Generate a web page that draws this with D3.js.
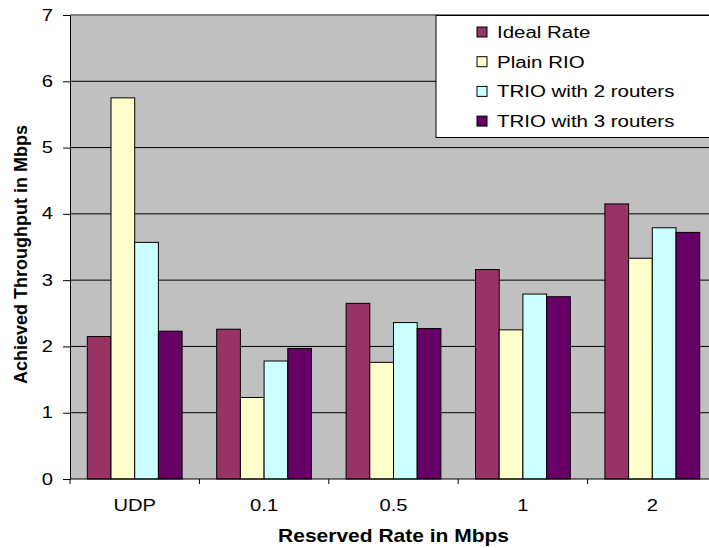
<!DOCTYPE html>
<html>
<head>
<meta charset="utf-8">
<script src="https://cdn.jsdelivr.net/npm/d3@7"></script>
<style>
  html, body { margin: 0; padding: 0; background: #fff; }
  svg { display: block; font-family: "Liberation Sans", Arial, sans-serif; }
</style>
</head>
<body>
<svg id="chart" width="709" height="548"></svg>
<script>
// Reserved-rate categories and measured throughput per scheme (Mbps)
const categories = ["UDP", "0.1", "0.5", "1", "2"];
const seriesNames = ["Ideal Rate", "Plain RIO", "TRIO with 2 routers", "TRIO with 3 routers"];
const idealRate = [2.15, 2.26, 2.65, 3.16, 4.15];
const plainRIO  = [5.75, 1.23, 1.76, 2.25, 3.33];
const trio2     = [3.57, 1.78, 2.36, 2.79, 3.79];
const trio3     = [2.23, 1.97, 2.27, 2.75, 3.72];
const yTicks = [0, 1, 2, 3, 4, 5, 6, 7];
const colors = ["#993366", "#ffffcc", "#ccffff", "#660066"];

const seriesValues = [idealRate, plainRIO, trio2, trio3];

const svg = d3.select("#chart");
const plotLeft = 70, plotRight = 717, plotTop = 15, plotBottom = 479;
const sx = 1.26; // horizontal widening of text glyphs

const x0 = d3.scaleBand().domain(categories).range([plotLeft, plotRight]).paddingInner(0).paddingOuter(0);
const x1 = d3.scaleBand().domain(seriesNames).range([0, x0.bandwidth()]).paddingInner(0).paddingOuter(0.73);
const y = d3.scaleLinear().domain([0, 7]).range([plotBottom, plotTop]);
const color = d3.scaleOrdinal().domain(seriesNames).range(colors);

// plot background
svg.append("rect")
  .attr("x", plotLeft).attr("y", plotTop)
  .attr("width", plotRight - plotLeft).attr("height", plotBottom - plotTop)
  .attr("fill", "#c0c0c0");

// horizontal gridlines
svg.append("g").selectAll("line")
  .data(yTicks.filter(t => t > 0 && t < 7))
  .join("line")
  .attr("x1", plotLeft).attr("x2", plotRight)
  .attr("y1", d => y(d)).attr("y2", d => y(d))
  .attr("stroke", "#000").attr("stroke-width", 1);

// top border of the plot area
svg.append("line")
  .attr("x1", plotLeft).attr("x2", plotRight)
  .attr("y1", y(7)).attr("y2", y(7))
  .attr("stroke", "#808080").attr("stroke-width", 2);

// bars
const rows = categories.map((c, i) => ({
  cat: c,
  vals: seriesNames.map((s, j) => ({ s, v: seriesValues[j][i] }))
}));
svg.append("g").selectAll("g")
  .data(rows)
  .join("g")
  .attr("transform", d => `translate(${x0(d.cat)},0)`)
  .selectAll("rect")
  .data(d => d.vals)
  .join("rect")
  .attr("x", d => x1(d.s))
  .attr("width", x1.bandwidth())
  .attr("y", d => y(d.v))
  .attr("height", d => y(0) - y(d.v))
  .attr("fill", d => color(d.s))
  .attr("stroke", "#000").attr("stroke-width", 1);

// y axis
const yAxis = svg.append("g")
  .attr("transform", `translate(${plotLeft},0)`)
  .call(d3.axisLeft(y).tickValues(yTicks).tickFormat(d3.format("d")).tickSize(7).tickPadding(0));
yAxis.select(".domain").attr("stroke", "#000");
yAxis.selectAll(".tick line").attr("stroke", "#000");
yAxis.selectAll(".tick text")
  .attr("x", 0)
  .attr("transform", `translate(-17,0) scale(${sx},1)`)
  .attr("font-size", 16).attr("fill", "#000")
  .attr("font-family", "'Liberation Sans', Arial, sans-serif");

// x axis with ticks at category boundaries
const xAxisG = svg.append("g").attr("transform", `translate(0,${plotBottom})`);
xAxisG.append("line").attr("x1", plotLeft).attr("x2", plotRight).attr("stroke", "#000");
xAxisG.selectAll("line.tk")
  .data(categories)
  .join("line").attr("class", "tk")
  .attr("x1", d => x0(d)).attr("x2", d => x0(d))
  .attr("y1", 0).attr("y2", 5)
  .attr("stroke", "#000");
xAxisG.selectAll("text")
  .data(categories)
  .join("text")
  .attr("text-anchor", "middle")
  .attr("transform", d => `translate(${x0(d) + x0.bandwidth() / 2},32) scale(${sx},1)`)
  .attr("font-size", 16).attr("fill", "#000")
  .text(d => d);

// axis titles
svg.append("text")
  .attr("text-anchor", "middle")
  .attr("transform", `translate(${(plotLeft + plotRight) / 2},542) scale(1.2,1)`)
  .attr("font-size", 17.5).attr("font-weight", "bold").attr("fill", "#000")
  .text("Reserved Rate in Mbps");

svg.append("text")
  .attr("text-anchor", "middle")
  .attr("transform", `translate(27,254.5) rotate(-90)`)
  .attr("font-size", 18).attr("font-weight", "bold").attr("fill", "#000")
  .text("Achieved Throughput in Mbps");

// legend
const legend = svg.append("g");
legend.append("rect")
  .attr("x", 436).attr("y", 15.5)
  .attr("width", 300).attr("height", 122)
  .attr("fill", "#fff").attr("stroke", "#000").attr("stroke-width", 1);
const items = legend.selectAll("g.item")
  .data(seriesNames)
  .join("g").attr("class", "item")
  .attr("transform", (d, i) => `translate(477,${32 + i * 29.7})`);
items.append("rect")
  .attr("x", 0).attr("y", -5)
  .attr("width", 10).attr("height", 10)
  .attr("fill", d => color(d)).attr("stroke", "#000");
items.append("text")
  .attr("transform", `translate(20,5.8) scale(1.28,1)`)
  .attr("font-size", 16).attr("fill", "#000")
  .text(d => d);
</script>
</body>
</html>
